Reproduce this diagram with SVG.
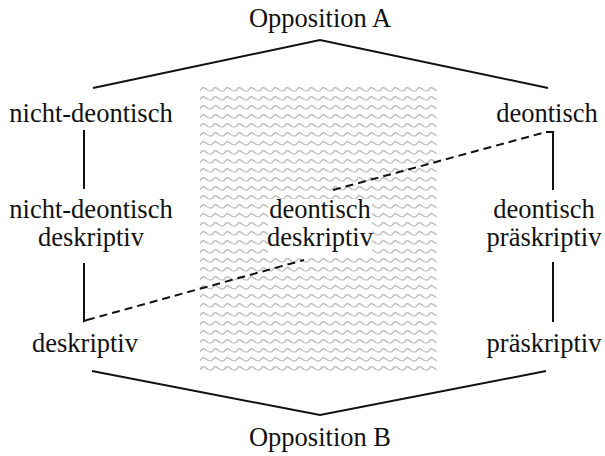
<svg xmlns="http://www.w3.org/2000/svg" width="605" height="456" viewBox="0 0 605 456">
  <defs>
    <!-- light grey wavy hatching for the central field -->
    <pattern id="waves" x="200" y="85" width="12" height="9" patternUnits="userSpaceOnUse">
      <path d="M0 5.5 C3 2, 3 2, 6 4 S9 7, 12 5.5" fill="none" stroke="#b4b4b4" stroke-width="1.2"/>
    </pattern>
    <style>
      .lbl { font-family: "Liberation Serif", "Times New Roman", serif; font-size: 26.5px; fill: #111; text-anchor: middle; }
      .ln { fill: none; stroke: #111; stroke-width: 2; }
      .dash { fill: none; stroke: #111; stroke-width: 2; stroke-dasharray: 8 5; }
    </style>
  </defs>

  <rect id="field" x="200" y="85" width="237" height="288" fill="url(#waves)"/>

  <g id="connectors">
    <polyline class="ln" points="93,88 320,40 548,88"/>
    <polyline class="ln" points="92,371 320,415 546,371"/>
    <line class="ln" x1="84" y1="130" x2="84" y2="189"/>
    <polyline class="ln" points="84,263 84,321 87,320"/>
    <polyline class="ln" points="546,132 553,132 553,190"/>
    <line class="ln" x1="553" y1="262" x2="553" y2="322"/>
    <line class="dash" x1="87" y1="320" x2="304" y2="260"/>
    <line class="dash" x1="333" y1="190" x2="546" y2="132"/>
  </g>

  <g id="opposition-a"><text class="lbl" x="320" y="27">Opposition A</text></g>
  <g id="nicht-deontisch"><text class="lbl" x="91" y="122">nicht-deontisch</text></g>
  <g id="deontisch"><text class="lbl" x="547" y="122">deontisch</text></g>
  <g id="nicht-deontisch-deskriptiv">
    <text class="lbl" x="91" y="218">nicht-deontisch</text>
    <text class="lbl" x="91" y="246">deskriptiv</text>
  </g>
  <g id="deontisch-deskriptiv">
    <rect x="268" y="199" width="104" height="57" fill="#fff"/>
    <text class="lbl" x="320" y="218">deontisch</text>
    <text class="lbl" x="320" y="246">deskriptiv</text>
  </g>
  <g id="deontisch-praeskriptiv">
    <text class="lbl" x="544" y="218">deontisch</text>
    <text class="lbl" x="544" y="246">präskriptiv</text>
  </g>
  <g id="deskriptiv"><text class="lbl" x="85" y="352">deskriptiv</text></g>
  <g id="praeskriptiv"><text class="lbl" x="544" y="352">präskriptiv</text></g>
  <g id="opposition-b"><text class="lbl" x="320" y="446">Opposition B</text></g>
</svg>
